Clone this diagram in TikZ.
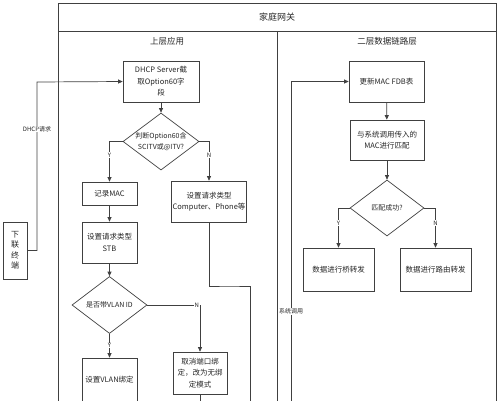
\documentclass[tikz,border=0pt]{standalone}
\usepackage{fontspec}
\setmainfont{Noto Sans CJK SC}
\usetikzlibrary{shapes.geometric,arrows.meta}

\begin{document}
\begin{tikzpicture}[x=1pt,y=-1pt,line width=0.7pt,
  box/.style={draw=black!75,rectangle,inner sep=1pt,align=center,text=black!85,
    font=\fontsize{7.5}{11.5}\selectfont},
  dia/.style={draw=black!75,diamond,shape aspect=1.3,inner sep=0pt,align=center,text=black!85,
    font=\fontsize{7}{10.5}\selectfont,minimum width=75pt,minimum height=57pt},
  lab/.style={fill=white,inner sep=0.5pt,text=black!85,font=\fontsize{6}{7}\selectfont},
  head/.style={text=black!85,font=\fontsize{8.5}{10}\selectfont},
  arr/.style={draw=black!75,-{Triangle[length=4.5pt,width=4pt]}},
  ln/.style={draw=black!75}]
\useasboundingbox (0,0) rectangle (500,400);

% Frame of the gateway
\draw[ln] (58,3) rectangle (496,410);
\draw[ln] (58,31) -- (496,31);
\draw[ln] (277,31) -- (277,410);

% Headings
\node[head,font=\fontsize{9}{10}\selectfont] (gw) at (277,17) {家庭网关};
\node[head] (upper) at (167,41) {上层应用};
\node[head] (lower) at (387,41) {二层数据链路层};

% Terminal on the left
\node[box,font=\fontsize{8}{10.5}\selectfont,minimum width=24pt,minimum height=57pt] (term) at (15,250.5) {下\\联\\终\\端};
\coordinate (bend) at (37,82);

% Upper application
\node[box,minimum width=76pt,minimum height=41pt] (dhcp) at (161,81.5) {DHCP Server截\\取Option60字\\段};
\node[dia,minimum width=76pt] (judge) at (161,141.5) {判断Option60含\\SCITV或@ITV?};
\node[box,minimum width=55pt,minimum height=23pt] (recmac) at (109.5,193.5) {记录MAC};
\node[box,minimum width=72pt,minimum height=41pt] (comp) at (209,201.5) {设置请求类型\\Computer、Phone等};
\node[box,minimum width=55pt,minimum height=41pt] (stb) at (109.5,242.5) {设置请求类型\\STB};
\node[dia] (vlan) at (109.5,305) {是否带VLAN ID};
\node[box,minimum width=55pt,minimum height=43pt] (setvlan) at (109.5,379.5) {设置VLAN绑定};
\node[box,minimum width=54pt,minimum height=42pt] (cancel) at (200,373) {取消端口绑\\定，改为无绑\\定模式};

% Data link layer
\node[box,minimum width=75pt,minimum height=41pt] (fdb) at (386.5,81.5) {更新MAC FDB表};
\node[box,minimum width=74pt,minimum height=40pt] (match) at (387,140) {与系统调用传入的\\MAC进行匹配};
\node[dia,minimum width=74pt,minimum height=56pt] (ok) at (387,208) {匹配成功?};
\node[box,minimum width=71pt,minimum height=43pt] (bridge) at (338.5,269.5) {数据进行桥转发};
\node[box,minimum width=71pt,minimum height=43pt] (route) at (435.5,269.5) {数据进行路由转发};

% Free ends at the bottom
\coordinate (compend) at (250,410);
\coordinate (sysbot) at (291,410);

% Connectors
\draw[arr] (term.east) -| node[lab,pos=0.86] {DHCP请求} (bend) -- (dhcp.west);
\draw[arr] (dhcp) -- (judge);
\draw[arr] (judge.west) -| node[lab,pos=0.67] {Y} (recmac.north);
\draw[arr] (judge.east) -| node[lab,pos=0.67] {N} (comp.north);
\draw[arr] (recmac) -- (stb);
\draw[arr] (stb) -- (vlan);
\draw[arr] (vlan) -- node[lab] {Y} (setvlan);
\draw[arr] (vlan.east) -| node[lab,pos=0.47] {N} (cancel.north);
\draw[ln] (comp.south) |- (229,286) -| (compend);
\draw[ln] (cancel.south) -- (cancel.south |- compend);
\draw[arr] (sysbot) |- node[lab,pos=0.15] {系统调用} (fdb.west);
\draw[arr] (fdb) -- (match);
\draw[arr] (match) -- (ok);
\draw[arr] (ok.west) -| node[lab,pos=0.69] {Y} (bridge.north);
\draw[arr] (ok.east) -| node[lab,pos=0.69] {N} (route.north);

\end{tikzpicture}
\end{document}
